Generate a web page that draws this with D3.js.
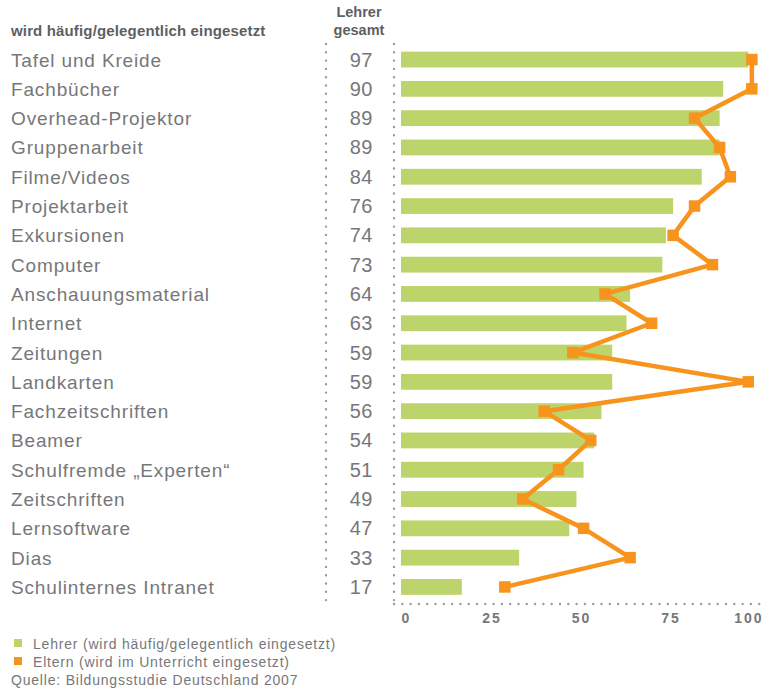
<!DOCTYPE html>
<html>
<head>
<meta charset="utf-8">
<script src="https://cdn.jsdelivr.net/npm/d3@7"></script>
<style>
  body { margin: 0; background: #fff; }
  svg { display: block; font-family: "Liberation Sans", Arial, sans-serif; }
</style>
</head>
<body>
<svg id="chart" width="765" height="691"></svg>
<script>
// --- data ---
const categories = [
  "Tafel und Kreide", "Fachbücher", "Overhead-Projektor", "Gruppenarbeit",
  "Filme/Videos", "Projektarbeit", "Exkursionen", "Computer",
  "Anschauungsmaterial", "Internet", "Zeitungen", "Landkarten",
  "Fachzeitschriften", "Beamer", "Schulfremde „Experten“", "Zeitschriften",
  "Lernsoftware", "Dias", "Schulinternes Intranet"
];
const lehrer = [97, 90, 89, 89, 84, 76, 74, 73, 64, 63, 59, 59, 56, 54, 51, 49, 47, 33, 17];
const eltern = [98, 98, 82, 89, 92, 82, 76, 87, 57, 70, 48, 97, 40, 53, 44, 34, 51, 64, 29];
const xTicks = [0, 25, 50, 75, 100];
const legendItems = [
  { label: "Lehrer (wird häufig/gelegentlich eingesetzt)", color: "#bdd46a" },
  { label: "Eltern (wird im Unterricht eingesetzt)", color: "#f7941e" }
];

const green = "#bdd46a";
const orange = "#f7941e";
const grey = "#76777a";
const dotGrey = "#9a9b9d";

const svg = d3.select("#chart");

// scales
const x = d3.scaleLinear().domain([0, 100]).range([401, 759]);
const y = d3.scaleBand()
    .domain(categories)
    .range([44.9, 601.6])
    .paddingInner(0.46)
    .paddingOuter(0.23);
const yc = d => y(d) + y.bandwidth() / 2;

// headers
svg.append("text")
    .attr("x", 11).attr("y", 36)
    .attr("font-size", 15).attr("font-weight", "bold")
    .attr("letter-spacing", 0.15)
    .attr("fill", "#5e5f62")
    .text("wird häufig/gelegentlich eingesetzt");
svg.append("text")
    .attr("x", 359).attr("y", 17)
    .attr("text-anchor", "middle")
    .attr("font-size", 14.5).attr("font-weight", "bold")
    .attr("fill", "#5e5f62")
    .text("Lehrer");
svg.append("text")
    .attr("x", 359).attr("y", 35)
    .attr("text-anchor", "middle")
    .attr("font-size", 14.5).attr("font-weight", "bold")
    .attr("fill", "#5e5f62")
    .text("gesamt");

// dotted frame lines
const dotted = (x1, y1, x2, y2) => svg.append("line")
    .attr("x1", x1).attr("y1", y1).attr("x2", x2).attr("y2", y2)
    .attr("stroke", dotGrey)
    .attr("stroke-width", 2.4)
    .attr("stroke-linecap", "round")
    .attr("stroke-dasharray", "0 8.3");
dotted(326, 44, 326, 604);
dotted(394, 44, 394, 604);
dotted(394, 604, 760, 604);

// category labels
svg.append("g").selectAll("text")
    .data(categories)
    .join("text")
    .attr("x", 11)
    .attr("y", d => yc(d) + 7)
    .attr("font-size", 19)
    .attr("letter-spacing", 0.85)
    .attr("fill", grey)
    .text(d => d);

// Lehrer values column
svg.append("g").selectAll("text")
    .data(lehrer)
    .join("text")
    .attr("x", 373)
    .attr("y", (d, i) => yc(categories[i]) + 7)
    .attr("text-anchor", "end")
    .attr("font-size", 20)
    .attr("letter-spacing", 0.5)
    .attr("fill", grey)
    .text(d => d);

// bars
svg.append("g").selectAll("rect")
    .data(lehrer)
    .join("rect")
    .attr("x", x(0))
    .attr("y", (d, i) => y(categories[i]))
    .attr("width", d => x(d) - x(0))
    .attr("height", y.bandwidth())
    .attr("fill", green);

// Eltern line + square markers
const line = d3.line()
    .x(d => x(d))
    .y((d, i) => yc(categories[i]));
svg.append("path")
    .datum(eltern)
    .attr("d", line)
    .attr("fill", "none")
    .attr("stroke", orange)
    .attr("stroke-width", 4.5)
    .attr("stroke-linejoin", "round");
const ms = 11.5;
svg.append("g").selectAll("rect")
    .data(eltern)
    .join("rect")
    .attr("x", d => x(d) - ms / 2)
    .attr("y", (d, i) => yc(categories[i]) - ms / 2)
    .attr("width", ms)
    .attr("height", ms)
    .attr("fill", orange);

// x axis labels
const axis = svg.append("g")
    .attr("transform", "translate(0,609)")
    .call(d3.axisBottom(x).tickValues(xTicks).tickSize(0).tickPadding(4));
axis.select(".domain").remove();
axis.selectAll("text")
    .attr("font-family", "Liberation Sans, Arial, sans-serif")
    .attr("font-size", 14)
    .attr("font-weight", "bold")
    .attr("letter-spacing", 2)
    .attr("fill", grey)
    .attr("text-anchor", d => d === 0 ? "start" : d === 100 ? "end" : "middle")
    .attr("dx", d => d === 100 ? 4 : d === 0 ? 0 : 1);

// legend
const legend = svg.append("g");
legendItems.forEach((item, i) => {
    legend.append("rect")
        .attr("x", 14).attr("y", 639 + i * 18)
        .attr("width", 8).attr("height", 8)
        .attr("fill", item.color);
    legend.append("text")
        .attr("x", 33).attr("y", 649 + i * 18)
        .attr("font-size", 14)
        .attr("letter-spacing", 0.8)
        .attr("fill", grey)
        .text(item.label);
});
legend.append("text")
    .attr("x", 11).attr("y", 685)
    .attr("font-size", 14)
    .attr("letter-spacing", 0.8)
    .attr("fill", grey)
    .text("Quelle: Bildungsstudie Deutschland 2007");
</script>
</body>
</html>
